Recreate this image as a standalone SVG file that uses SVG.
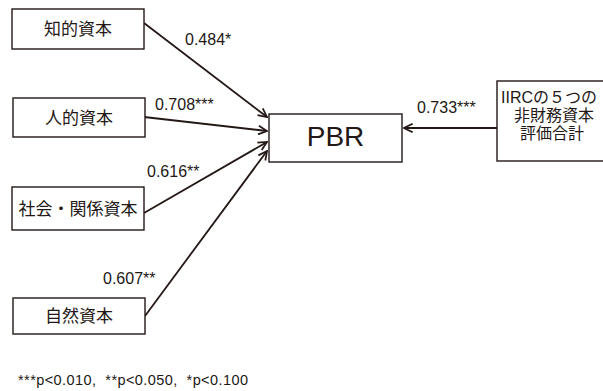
<svg xmlns="http://www.w3.org/2000/svg" width="603" height="391" viewBox="0 0 603 391">
<style>
.box{fill:#fff;stroke:#231815;stroke-width:1.4}
.jp{font-family:"Noto Sans CJK JP","Liberation Sans",sans-serif;font-size:17px;fill:#231815;text-anchor:middle}
.jr{font-family:"Liberation Sans","Noto Sans CJK JP",sans-serif;font-size:16px;fill:#231815;text-anchor:middle}
.num{font-family:"Liberation Sans",Arial,sans-serif;font-size:16px;fill:#231815}
.ln{stroke:#231815;stroke-width:1.8;fill:none;marker-end:url(#arr)}
</style>
<defs>
<marker id="arr" viewBox="0 0 10 10" refX="9" refY="5" markerWidth="6" markerHeight="6" orient="auto" markerUnits="strokeWidth">
<path d="M1,1 L9,5 L1,9" fill="none" stroke="#231815" stroke-width="1.6"/>
</marker>
</defs>
<rect width="603" height="391" fill="#fff"/>
<g id="connectors">
<line class="ln" x1="144" y1="23" x2="267" y2="117"/>
<line class="ln" x1="144" y1="117" x2="267" y2="131"/>
<line class="ln" x1="144" y1="213" x2="267" y2="142"/>
<line class="ln" x1="145" y1="316" x2="267" y2="151"/>
<line class="ln" x1="497" y1="128" x2="404" y2="128"/>
<text class="num" x="185" y="45">0.484*</text>
<text class="num" x="155" y="110">0.708***</text>
<text class="num" x="147" y="177">0.616**</text>
<text class="num" x="103" y="284">0.607**</text>
<text class="num" x="417" y="113">0.733***</text>
</g>
<g id="n1"><rect class="box" x="12" y="9" width="132" height="40"/><text class="jp" x="78" y="35">知的資本</text></g>
<g id="n2"><rect class="box" x="13" y="98" width="132" height="39"/><text class="jp" x="79" y="124">人的資本</text></g>
<g id="n3"><rect class="box" x="12" y="187" width="132" height="43"/><text class="jp" x="78" y="215">社会・関係資本</text></g>
<g id="n4"><rect class="box" x="13" y="298" width="132" height="36"/><text class="jp" x="79" y="322">自然資本</text></g>
<g id="pbr"><rect class="box" x="269" y="114" width="133" height="48"/><text x="335.5" y="146" font-family="Liberation Sans,Arial,sans-serif" font-size="28" fill="#231815" text-anchor="middle">PBR</text></g>
<g id="iirc"><rect class="box" x="497" y="81" width="120" height="80"/>
<text class="jr" x="501" y="103" style="text-anchor:start">IIRCの５つの</text>
<text class="jr" x="554" y="121">非財務資本</text>
<text class="jr" x="552" y="139">評価合計</text></g>
<text class="num" x="18" y="385" style="font-size:14.5px;white-space:pre" xml:space="preserve" textLength="230">***p&lt;0.010,  **p&lt;0.050,  *p&lt;0.100</text>
</svg>
